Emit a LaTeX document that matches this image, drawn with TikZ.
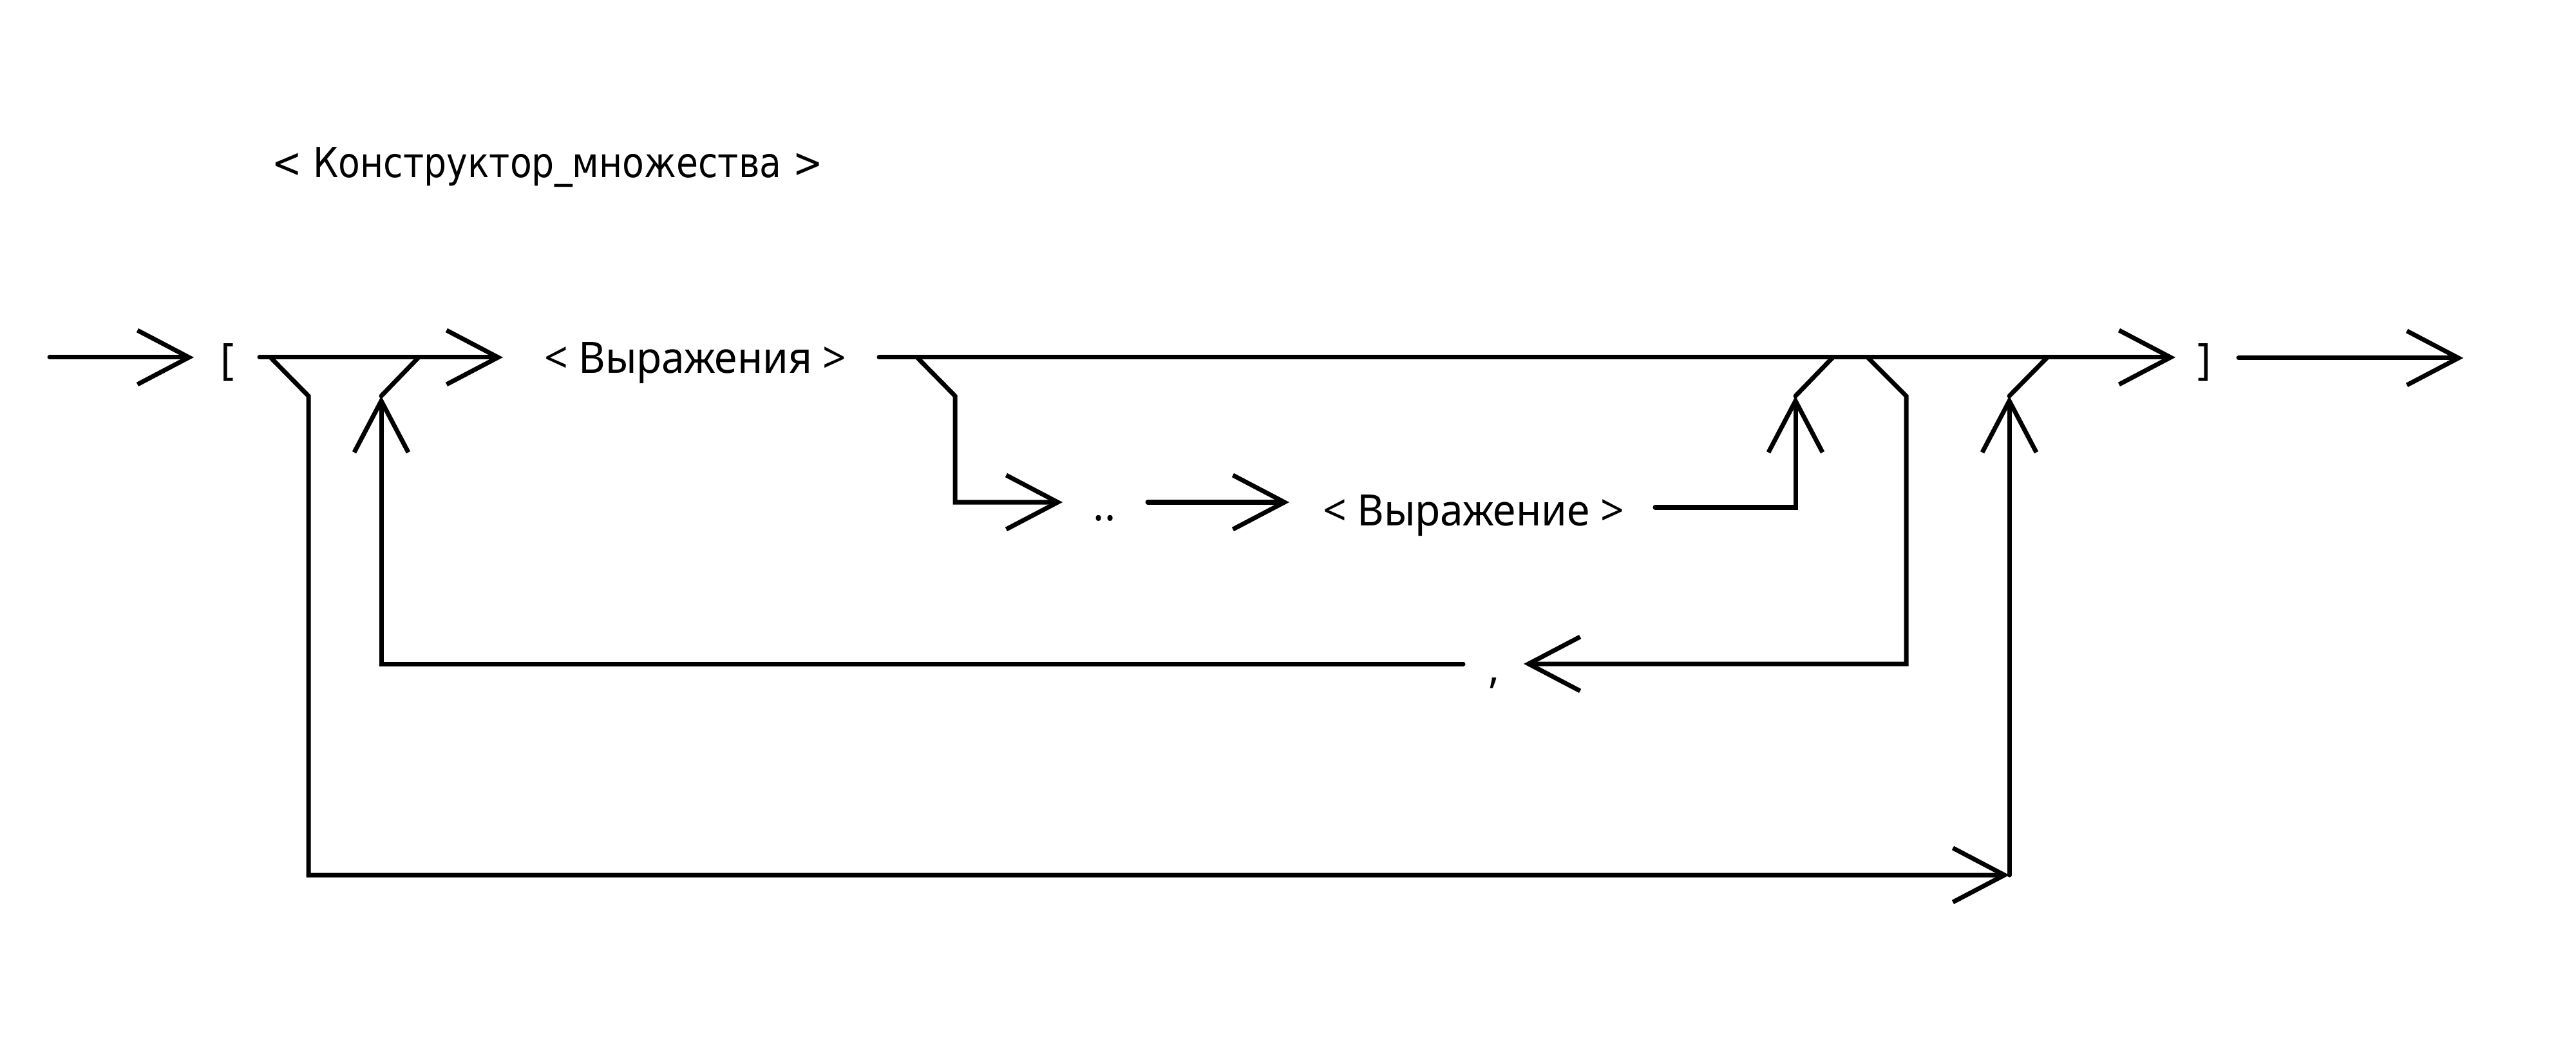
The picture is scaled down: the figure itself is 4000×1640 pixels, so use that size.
\documentclass[tikz,border=0pt]{standalone}
\usepackage{fontspec}
\setmainfont[FakeStretch=0.955]{Noto Sans}
\newfontfamily\titlefont[FakeStretch=0.86]{DejaVu Sans}
\usetikzlibrary{arrows.meta}
\begin{document}
\begin{tikzpicture}[x=0.01cm,y=-0.01cm,
  ln/.style={line width=0.07cm, line join=miter, line cap=round},
  arr/.style={ln,-{Straight Barb[length=0.8cm,width=0.84cm,sharp]}},
  lbl/.style={inner sep=0pt, anchor=base, font=\fontsize{19.1pt}{23pt}\selectfont},
  ttl/.style={inner sep=0pt, anchor=base, font=\titlefont\fontsize{18.3pt}{22pt}\selectfont}]
\useasboundingbox (0,0) rectangle (4000,1640);

% texts
\node[ttl] (title) at (850,276) {< Конструктор\_множества >};
\node[lbl] (lbr) at (353,582) {[};
\node[lbl] (e1) at (1080,580) {< Выражения >};
\node[lbl] (dots) at (1715,808) {..};
\node[lbl] (e2) at (2288,816) {< Выражение >};
\node[lbl] (comma) at (2320,1060) {,};
\node[lbl] (rbr) at (3423,582) {]};

% points
\coordinate (s) at (77,555);
\coordinate (a1) at (301,555);
\coordinate (m0) at (403,555);
\coordinate (dL) at (420,555);
\coordinate (dL2) at (479,615);
\coordinate (cL) at (479,1359);
\coordinate (cR) at (3120,1359);
\coordinate (uR) at (3120,615);
\coordinate (mR) at (3179,555);
\coordinate (uC) at (592,615);
\coordinate (mC) at (650,555);
\coordinate (cC) at (592,1031);
\coordinate (commaL) at (2272,1031);
\coordinate (commaR) at (2366,1031);
\coordinate (cD) at (2960,1031);
\coordinate (dD2) at (2960,615);
\coordinate (dD) at (2900,555);
\coordinate (a2) at (781,555);
\coordinate (m1) at (1365,555);
\coordinate (a3) at (3378,555);
\coordinate (dR) at (1424,555);
\coordinate (dR2) at (1483,615);
\coordinate (cRa) at (1483,780);
\coordinate (a4) at (1650,780);
\coordinate (d5) at (1782,780);
\coordinate (a5) at (2002,780);
\coordinate (e2o) at (2570,788);
\coordinate (cE) at (2788,788);
\coordinate (uE) at (2788,615);
\coordinate (mE) at (2846,555);
\coordinate (x0) at (3476,556);
\coordinate (x1) at (3825,556);

% main line
\draw[arr] (s) -- (a1);
\draw[arr] (m0) -- (a2);
\draw[arr] (m1) -- (a3);
\draw[arr] (x0) -- (x1);

% bottom bypass
\draw[arr] (dL) -- (dL2) -- (cL) -- (cR);
\draw[arr] (cR) -- (uR);
\draw[ln] (uR) -- (mR);

% comma loop
\draw[arr] (dD) -- (dD2) -- (cD) -- (commaR);
\draw[arr] (commaL) -- (cC) -- (uC);
\draw[ln] (uC) -- (mC);

% range branch
\draw[arr] (dR) -- (dR2) -- (cRa) -- (a4);
\draw[arr] (d5) -- (a5);
\draw[arr] (e2o) -- (cE) -- (uE);
\draw[ln] (uE) -- (mE);
\end{tikzpicture}
\end{document}
